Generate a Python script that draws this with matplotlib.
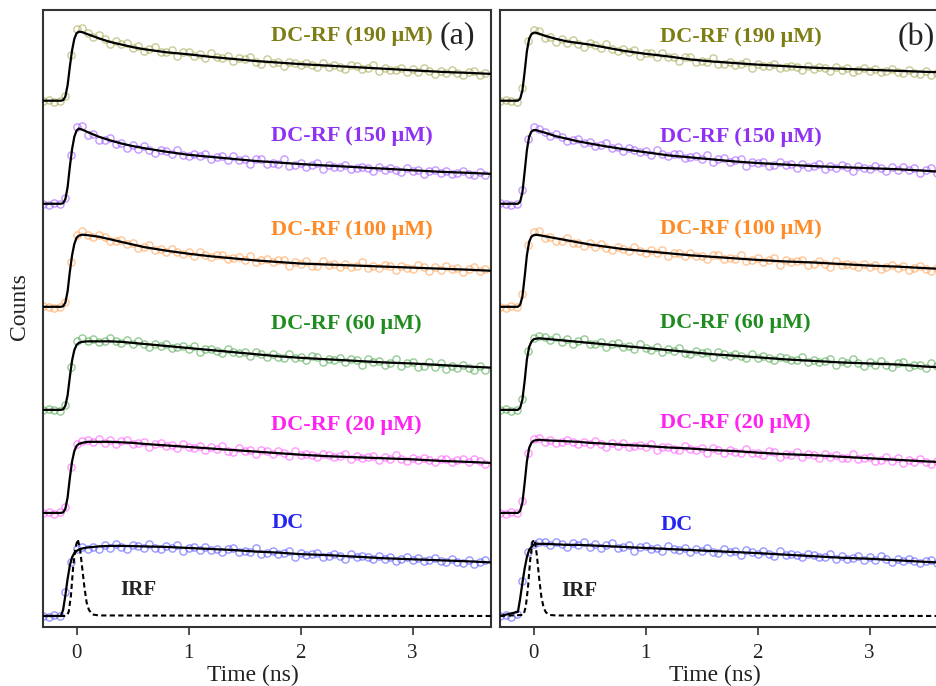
import numpy as np
import matplotlib
matplotlib.use('Agg')
import matplotlib.pyplot as plt

plt.rcParams['font.family'] = ['Liberation Serif', 'DejaVu Serif']

# channel times of the decay data (ns)
t_data = [-0.30, -0.25, -0.20, -0.15, -0.10, -0.05, 0.00, 0.05, 0.10, 0.15,
          0.20, 0.25, 0.30, 0.35, 0.40, 0.45, 0.50, 0.55, 0.60, 0.65,
          0.70, 0.75, 0.80, 0.85, 0.90, 0.95, 1.00, 1.05, 1.10, 1.15,
          1.20, 1.25, 1.30, 1.35, 1.40, 1.45, 1.50, 1.55, 1.60, 1.65,
          1.70, 1.75, 1.80, 1.85, 1.90, 1.95, 2.00, 2.05, 2.10, 2.15,
          2.20, 2.25, 2.30, 2.35, 2.40, 2.45, 2.50, 2.55, 2.60, 2.65,
          2.70, 2.75, 2.80, 2.85, 2.90, 2.95, 3.00, 3.05, 3.10, 3.15,
          3.20, 3.25, 3.30, 3.35, 3.40, 3.45, 3.50, 3.55, 3.60, 3.65]

# times of the fitted curves (ns)
t_fit = [-0.30, -0.14, -0.12, -0.10, -0.08, -0.06, -0.04, -0.02, 0.00, 0.02,
         0.05, 0.10, 0.20, 0.30, 0.40, 0.50, 0.60, 0.80, 1.00, 1.20,
         1.40, 1.60, 1.80, 2.00, 2.25, 2.50, 2.75, 3.00, 3.25, 3.50, 3.70]

t_irf = [-0.30, -0.09, -0.07, -0.05, -0.03, -0.01, 0.01, 0.03, 0.05, 0.07,
         0.09, 0.11, 0.14, 0.20, 3.70]

labels = ['DC', 'DC-RF (20 μM)', 'DC-RF (60 μM)', 'DC-RF (100 μM)',
          'DC-RF (150 μM)', 'DC-RF (190 μM)']

# ---------------- panel (a) ----------------
data_a_dc = [0.00, -0.01, 0.01, 0.00, 0.23, 0.52, 0.65, 0.67, 0.65, 0.67,
             0.65, 0.69, 0.66, 0.70, 0.67, 0.65, 0.69, 0.68, 0.66, 0.70,
             0.66, 0.65, 0.68, 0.66, 0.69, 0.63, 0.66, 0.67, 0.64, 0.67,
             0.64, 0.65, 0.62, 0.65, 0.66, 0.62, 0.63, 0.62, 0.66, 0.60,
             0.61, 0.63, 0.60, 0.61, 0.63, 0.57, 0.61, 0.59, 0.60, 0.61,
             0.57, 0.58, 0.60, 0.58, 0.55, 0.60, 0.57, 0.58, 0.57, 0.55,
             0.58, 0.55, 0.57, 0.53, 0.55, 0.57, 0.54, 0.56, 0.53, 0.54,
             0.56, 0.53, 0.52, 0.55, 0.52, 0.51, 0.54, 0.50, 0.52, 0.54]
data_a_20 = [0.00, 0.01, -0.01, 0.01, 0.06, 0.45, 0.67, 0.70, 0.71, 0.69,
             0.72, 0.68, 0.71, 0.67, 0.70, 0.71, 0.67, 0.68, 0.69, 0.64,
             0.67, 0.68, 0.65, 0.66, 0.63, 0.67, 0.64, 0.63, 0.65, 0.61,
             0.64, 0.62, 0.65, 0.60, 0.59, 0.63, 0.60, 0.61, 0.57, 0.61,
             0.60, 0.57, 0.60, 0.58, 0.55, 0.60, 0.56, 0.57, 0.56, 0.54,
             0.57, 0.56, 0.54, 0.55, 0.57, 0.52, 0.55, 0.53, 0.54, 0.55,
             0.51, 0.54, 0.52, 0.56, 0.52, 0.50, 0.53, 0.51, 0.53, 0.51,
             0.49, 0.52, 0.52, 0.49, 0.51, 0.52, 0.49, 0.52, 0.50, 0.47]
data_a_60 = [0.00, 0.01, 0.00, -0.01, 0.05, 0.42, 0.67, 0.70, 0.67, 0.69,
             0.66, 0.67, 0.70, 0.67, 0.65, 0.68, 0.64, 0.67, 0.64, 0.61,
             0.64, 0.62, 0.64, 0.60, 0.61, 0.62, 0.59, 0.62, 0.56, 0.59,
             0.59, 0.57, 0.55, 0.59, 0.56, 0.55, 0.56, 0.52, 0.56, 0.54,
             0.51, 0.54, 0.51, 0.50, 0.54, 0.50, 0.51, 0.48, 0.52, 0.51,
             0.46, 0.49, 0.48, 0.50, 0.46, 0.49, 0.48, 0.44, 0.49, 0.46,
             0.47, 0.44, 0.45, 0.49, 0.43, 0.45, 0.46, 0.42, 0.43, 0.46,
             0.42, 0.45, 0.40, 0.43, 0.41, 0.44, 0.41, 0.39, 0.43, 0.39]
data_a_100 = [0.01, 0.00, -0.01, 0.00, 0.05, 0.43, 0.70, 0.74, 0.70, 0.68,
              0.70, 0.68, 0.64, 0.64, 0.65, 0.61, 0.62, 0.57, 0.58, 0.60,
              0.55, 0.56, 0.53, 0.56, 0.53, 0.51, 0.53, 0.49, 0.53, 0.50,
              0.48, 0.50, 0.50, 0.46, 0.47, 0.48, 0.45, 0.49, 0.43, 0.45,
              0.46, 0.43, 0.45, 0.45, 0.40, 0.43, 0.42, 0.44, 0.40, 0.40,
              0.44, 0.41, 0.42, 0.39, 0.42, 0.39, 0.40, 0.43, 0.38, 0.40,
              0.38, 0.41, 0.40, 0.36, 0.40, 0.38, 0.37, 0.41, 0.39, 0.35,
              0.39, 0.36, 0.40, 0.37, 0.38, 0.34, 0.37, 0.39, 0.35, 0.37]
data_a_150 = [0.00, -0.01, 0.01, 0.00, 0.06, 0.47, 0.74, 0.75, 0.67, 0.68,
              0.62, 0.62, 0.64, 0.58, 0.59, 0.54, 0.57, 0.53, 0.56, 0.52,
              0.49, 0.52, 0.51, 0.48, 0.52, 0.47, 0.46, 0.48, 0.46, 0.48,
              0.43, 0.45, 0.46, 0.42, 0.46, 0.42, 0.43, 0.39, 0.43, 0.43,
              0.39, 0.40, 0.39, 0.43, 0.37, 0.38, 0.40, 0.36, 0.38, 0.40,
              0.34, 0.38, 0.36, 0.36, 0.38, 0.34, 0.35, 0.36, 0.35, 0.32,
              0.36, 0.33, 0.35, 0.33, 0.31, 0.35, 0.32, 0.33, 0.29, 0.32,
              0.33, 0.30, 0.32, 0.29, 0.30, 0.32, 0.29, 0.28, 0.31, 0.28]
data_a_190 = [0.00, 0.01, -0.01, 0.00, 0.05, 0.44, 0.70, 0.71, 0.66, 0.62,
              0.64, 0.60, 0.55, 0.58, 0.55, 0.56, 0.51, 0.53, 0.48, 0.50,
              0.52, 0.47, 0.47, 0.49, 0.43, 0.47, 0.47, 0.43, 0.45, 0.41,
              0.46, 0.42, 0.41, 0.43, 0.39, 0.41, 0.40, 0.42, 0.38, 0.36,
              0.40, 0.37, 0.38, 0.34, 0.38, 0.37, 0.35, 0.37, 0.35, 0.33,
              0.37, 0.33, 0.35, 0.33, 0.31, 0.35, 0.34, 0.31, 0.32, 0.35,
              0.29, 0.32, 0.30, 0.30, 0.32, 0.28, 0.31, 0.28, 0.32, 0.29,
              0.26, 0.29, 0.27, 0.30, 0.27, 0.25, 0.28, 0.29, 0.25, 0.27]

fit_a_dc = [0.00, 0.00, 0.06, 0.20, 0.36, 0.49, 0.57, 0.61, 0.63, 0.645,
            0.655, 0.665, 0.675, 0.68, 0.68, 0.678, 0.675, 0.67, 0.66, 0.65,
            0.64, 0.625, 0.615, 0.60, 0.59, 0.575, 0.56, 0.55, 0.54, 0.53, 0.52]
fit_a_20 = [0.00, 0.00, 0.005, 0.04, 0.15, 0.34, 0.50, 0.60, 0.65, 0.67,
            0.68, 0.69, 0.69, 0.69, 0.685, 0.68, 0.67, 0.655, 0.64, 0.625,
            0.61, 0.595, 0.58, 0.565, 0.55, 0.54, 0.53, 0.52, 0.505, 0.495, 0.485]
fit_a_60 = [0.00, 0.00, 0.005, 0.04, 0.14, 0.32, 0.48, 0.58, 0.63, 0.65,
            0.66, 0.665, 0.665, 0.665, 0.66, 0.65, 0.64, 0.62, 0.60, 0.58,
            0.56, 0.54, 0.52, 0.505, 0.49, 0.475, 0.46, 0.45, 0.435, 0.42, 0.41]
fit_a_100 = [0.00, 0.00, 0.005, 0.04, 0.15, 0.34, 0.50, 0.61, 0.67, 0.69,
             0.70, 0.695, 0.68, 0.655, 0.63, 0.605, 0.58, 0.545, 0.515, 0.49,
             0.47, 0.45, 0.435, 0.42, 0.41, 0.40, 0.39, 0.38, 0.37, 0.36, 0.35]
fit_a_150 = [0.00, 0.00, 0.005, 0.045, 0.16, 0.36, 0.53, 0.65, 0.71, 0.73,
             0.72, 0.695, 0.65, 0.615, 0.585, 0.56, 0.54, 0.505, 0.475, 0.455,
             0.435, 0.415, 0.40, 0.385, 0.37, 0.355, 0.34, 0.325, 0.31, 0.30, 0.29]
fit_a_190 = [0.00, 0.00, 0.005, 0.04, 0.15, 0.33, 0.49, 0.60, 0.655, 0.67,
             0.665, 0.645, 0.605, 0.57, 0.545, 0.52, 0.50, 0.47, 0.45, 0.425,
             0.405, 0.385, 0.37, 0.355, 0.34, 0.325, 0.31, 0.295, 0.28, 0.27, 0.26]

irf_a = [0.0, 0.0, 0.04, 0.20, 0.48, 0.66, 0.745, 0.66, 0.47, 0.28,
         0.13, 0.06, 0.015, 0.005, 0.0]

# ---------------- panel (b) ----------------
data_b_dc = [0.00, 0.01, -0.01, 0.02, 0.34, 0.62, 0.70, 0.72, 0.72, 0.69,
             0.72, 0.70, 0.67, 0.71, 0.69, 0.72, 0.67, 0.70, 0.66, 0.69,
             0.71, 0.66, 0.67, 0.69, 0.63, 0.67, 0.68, 0.65, 0.66, 0.63,
             0.68, 0.65, 0.64, 0.66, 0.62, 0.65, 0.63, 0.66, 0.62, 0.61,
             0.65, 0.62, 0.63, 0.59, 0.64, 0.62, 0.60, 0.63, 0.60, 0.58,
             0.63, 0.59, 0.60, 0.59, 0.57, 0.60, 0.59, 0.57, 0.57, 0.60,
             0.55, 0.58, 0.55, 0.56, 0.58, 0.54, 0.57, 0.54, 0.58, 0.55,
             0.52, 0.55, 0.53, 0.55, 0.53, 0.51, 0.53, 0.54, 0.51, 0.53]
data_b_20 = [0.00, -0.01, 0.01, 0.00, 0.12, 0.58, 0.72, 0.73, 0.69, 0.71,
             0.68, 0.69, 0.71, 0.69, 0.67, 0.69, 0.67, 0.70, 0.67, 0.64,
             0.68, 0.65, 0.68, 0.64, 0.65, 0.66, 0.64, 0.67, 0.61, 0.64,
             0.64, 0.62, 0.61, 0.65, 0.62, 0.61, 0.63, 0.58, 0.63, 0.61,
             0.58, 0.61, 0.59, 0.58, 0.62, 0.58, 0.58, 0.56, 0.60, 0.59,
             0.54, 0.57, 0.56, 0.59, 0.54, 0.57, 0.56, 0.53, 0.57, 0.54,
             0.56, 0.53, 0.53, 0.57, 0.52, 0.53, 0.54, 0.50, 0.51, 0.54,
             0.50, 0.53, 0.48, 0.51, 0.49, 0.52, 0.49, 0.47, 0.50, 0.47]
data_b_60 = [0.00, 0.01, -0.01, 0.00, 0.11, 0.57, 0.70, 0.72, 0.71, 0.68,
             0.71, 0.66, 0.69, 0.64, 0.67, 0.69, 0.64, 0.64, 0.66, 0.61,
             0.64, 0.65, 0.61, 0.62, 0.59, 0.64, 0.60, 0.58, 0.61, 0.56,
             0.59, 0.57, 0.60, 0.55, 0.54, 0.57, 0.55, 0.56, 0.51, 0.56,
             0.54, 0.52, 0.54, 0.52, 0.50, 0.54, 0.50, 0.52, 0.50, 0.48,
             0.51, 0.50, 0.48, 0.48, 0.51, 0.46, 0.48, 0.46, 0.47, 0.49,
             0.44, 0.47, 0.45, 0.49, 0.45, 0.43, 0.46, 0.44, 0.47, 0.44,
             0.42, 0.45, 0.46, 0.42, 0.44, 0.44, 0.41, 0.45, 0.43, 0.39]
data_b_100 = [0.00, -0.01, 0.01, 0.00, 0.12, 0.60, 0.73, 0.74, 0.67, 0.68,
              0.64, 0.64, 0.67, 0.62, 0.62, 0.59, 0.62, 0.58, 0.61, 0.57,
              0.55, 0.58, 0.56, 0.54, 0.58, 0.54, 0.52, 0.55, 0.52, 0.55,
              0.49, 0.52, 0.52, 0.49, 0.52, 0.49, 0.49, 0.46, 0.50, 0.50,
              0.46, 0.47, 0.46, 0.50, 0.44, 0.45, 0.47, 0.43, 0.45, 0.47,
              0.41, 0.45, 0.43, 0.44, 0.45, 0.41, 0.42, 0.44, 0.42, 0.39,
              0.44, 0.41, 0.42, 0.41, 0.39, 0.42, 0.39, 0.41, 0.37, 0.39,
              0.41, 0.38, 0.40, 0.36, 0.38, 0.40, 0.37, 0.35, 0.38, 0.36]
data_b_150 = [0.01, 0.00, -0.01, 0.00, 0.13, 0.63, 0.74, 0.73, 0.70, 0.66,
              0.68, 0.65, 0.61, 0.62, 0.63, 0.59, 0.60, 0.56, 0.57, 0.59,
              0.54, 0.55, 0.51, 0.54, 0.52, 0.50, 0.51, 0.47, 0.52, 0.48,
              0.46, 0.48, 0.48, 0.44, 0.45, 0.46, 0.43, 0.47, 0.41, 0.43,
              0.44, 0.41, 0.42, 0.43, 0.37, 0.41, 0.40, 0.41, 0.37, 0.38,
              0.41, 0.38, 0.39, 0.35, 0.39, 0.36, 0.37, 0.39, 0.34, 0.37,
              0.35, 0.38, 0.36, 0.32, 0.37, 0.35, 0.34, 0.37, 0.35, 0.32,
              0.36, 0.33, 0.36, 0.33, 0.35, 0.30, 0.33, 0.35, 0.30, 0.33]
data_b_190 = [0.00, 0.01, 0.00, -0.01, 0.12, 0.58, 0.69, 0.68, 0.61, 0.62,
              0.57, 0.60, 0.56, 0.59, 0.55, 0.52, 0.56, 0.54, 0.51, 0.55,
              0.50, 0.48, 0.50, 0.47, 0.49, 0.43, 0.46, 0.46, 0.42, 0.46,
              0.42, 0.42, 0.39, 0.42, 0.42, 0.38, 0.39, 0.38, 0.41, 0.36,
              0.36, 0.38, 0.35, 0.36, 0.38, 0.32, 0.36, 0.34, 0.34, 0.36,
              0.32, 0.33, 0.34, 0.33, 0.30, 0.34, 0.31, 0.33, 0.32, 0.29,
              0.33, 0.30, 0.32, 0.28, 0.30, 0.32, 0.29, 0.31, 0.28, 0.29,
              0.31, 0.28, 0.27, 0.30, 0.27, 0.26, 0.29, 0.25, 0.27, 0.30]

fit_b_dc = [0.00, 0.04, 0.17, 0.32, 0.46, 0.57, 0.64, 0.67, 0.69, 0.70,
            0.70, 0.70, 0.695, 0.69, 0.69, 0.685, 0.68, 0.67, 0.66, 0.65,
            0.64, 0.63, 0.62, 0.61, 0.595, 0.58, 0.565, 0.555, 0.54, 0.525, 0.515]
fit_b_20 = [0.00, 0.00, 0.02, 0.10, 0.29, 0.50, 0.63, 0.68, 0.70, 0.705,
            0.71, 0.705, 0.70, 0.695, 0.69, 0.68, 0.675, 0.66, 0.65, 0.635,
            0.625, 0.61, 0.60, 0.585, 0.57, 0.56, 0.545, 0.53, 0.515, 0.50, 0.49]
fit_b_60 = [0.00, 0.00, 0.02, 0.10, 0.28, 0.49, 0.61, 0.66, 0.685, 0.69,
            0.695, 0.69, 0.68, 0.67, 0.66, 0.65, 0.64, 0.62, 0.60, 0.58,
            0.56, 0.54, 0.525, 0.51, 0.49, 0.475, 0.46, 0.45, 0.44, 0.42, 0.41]
fit_b_100 = [0.00, 0.00, 0.02, 0.10, 0.29, 0.50, 0.63, 0.68, 0.695, 0.70,
             0.695, 0.685, 0.665, 0.645, 0.625, 0.605, 0.59, 0.56, 0.54, 0.52,
             0.50, 0.485, 0.47, 0.455, 0.44, 0.43, 0.415, 0.40, 0.39, 0.375, 0.365]
fit_b_150 = [0.00, 0.00, 0.02, 0.11, 0.31, 0.52, 0.65, 0.70, 0.715, 0.715,
             0.705, 0.69, 0.655, 0.63, 0.605, 0.585, 0.565, 0.53, 0.50, 0.47,
             0.45, 0.43, 0.41, 0.395, 0.38, 0.365, 0.355, 0.345, 0.335, 0.32, 0.305]
fit_b_190 = [0.00, 0.00, 0.02, 0.10, 0.28, 0.48, 0.60, 0.645, 0.66, 0.66,
             0.65, 0.63, 0.60, 0.575, 0.56, 0.545, 0.525, 0.485, 0.455, 0.43,
             0.40, 0.38, 0.365, 0.35, 0.335, 0.32, 0.31, 0.30, 0.29, 0.28, 0.275]

irf_b = [0.0, 0.01, 0.09, 0.28, 0.55, 0.72, 0.74, 0.58, 0.36, 0.18,
         0.08, 0.035, 0.01, 0.005, 0.0]

text_colors = ['#2424f5', '#ff22f0', '#1f8c1f', '#ff8a26', '#9030f5', '#7d7d14']
marker_colors = ['#5555ff', '#ff55ff', '#4fa84f', '#ffa050', '#a055ff', '#a8a852']


def plot_panel(ax, data_sets, fit_sets, irf, label_x, label_dy, tag, tag_pos, irf_pos):
    step = 1.0
    for k, (d, f) in enumerate(zip(data_sets, fit_sets)):
        ax.plot(t_data, np.array(d) + k * step, 'o', ms=5.2, mfc='none',
                mec=marker_colors[k], mew=1.0, alpha=0.6, zorder=2)
        ax.plot(t_fit, np.array(f) + k * step, color='black', lw=1.6, zorder=3)
        ax.text(label_x, label_dy[k] + k * step, labels[k], color=text_colors[k],
                fontsize=16, fontweight='bold', ha='left', va='center')
    ax.plot(t_irf, irf, color='black', lw=1.5, ls=(0, (2.5, 1.6)), zorder=4)
    ax.text(irf_pos[0], irf_pos[1], 'IRF', fontsize=15, fontweight='bold',
            ha='center', va='center', color='#222222')
    ax.text(tag_pos[0], tag_pos[1], tag, fontsize=23, ha='center', va='center',
            color='#222222')

    ax.set_xlim(-0.3, 3.7)
    ax.set_ylim(-0.107, 5.88)
    ax.set_xticks([0, 1, 2, 3])
    ax.set_yticks([])
    ax.tick_params(axis='x', direction='out', length=6, width=1.2,
                   labelsize=15, pad=6, colors='#333333', labelcolor='#222222')
    for s in ax.spines.values():
        s.set_color('#333333')
        s.set_linewidth(1.5)
    ax.set_xlabel('Time (ns)', fontsize=17, color='#222222')


fig = plt.figure(figsize=(9.36, 6.86), dpi=100)
ax_a = fig.add_axes([0.0459, 0.086, 0.4786, 0.8994])
ax_b = fig.add_axes([0.5342, 0.086, 0.4786, 0.8994])

plot_panel(ax_a,
           [data_a_dc, data_a_20, data_a_60, data_a_100, data_a_150, data_a_190],
           [fit_a_dc, fit_a_20, fit_a_60, fit_a_100, fit_a_150, fit_a_190],
           irf_a, 1.74, [0.90, 0.855, 0.83, 0.75, 0.66, 0.63],
           '(a)', (3.40, 5.63), (0.55, 0.25))
plot_panel(ax_b,
           [data_b_dc, data_b_20, data_b_60, data_b_100, data_b_150, data_b_190],
           [fit_b_dc, fit_b_20, fit_b_60, fit_b_100, fit_b_150, fit_b_190],
           irf_b, 1.13, [0.88, 0.868, 0.84, 0.754, 0.65, 0.615],
           '(b)', (3.42, 5.615), (0.41, 0.24))

ax_a.xaxis.set_label_coords(0.469, -0.062)
ax_b.xaxis.set_label_coords(0.48, -0.062)

fig.text(20 / 936, 1 - 307 / 686, 'Counts', rotation=90, fontsize=17,
         ha='center', va='center', color='#222222')

fig.savefig('out.png', dpi=100)
